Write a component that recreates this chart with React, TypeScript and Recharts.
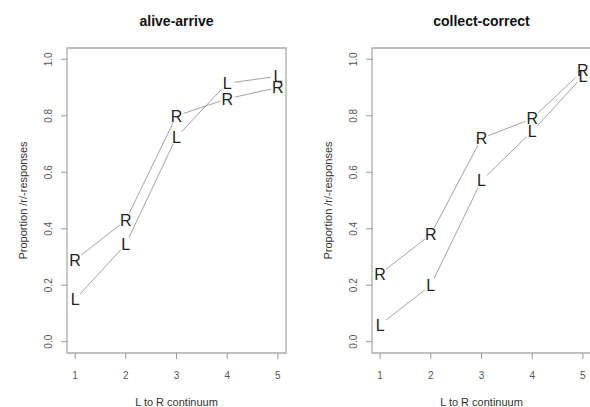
import React from "react";
import {
  ComposedChart,
  Line,
  Scatter,
  XAxis,
  YAxis,
  ReferenceArea,
} from "recharts";

// continuum steps and tick labels
const steps = [1, 2, 3, 4, 5];
const yTicks = [0, 0.2, 0.4, 0.6, 0.8, 1.0];

// alive-arrive
const aliveR = [0.29, 0.43, 0.8, 0.86, 0.9];
const aliveL = [0.15, 0.345, 0.725, 0.915, 0.94];

// collect-correct
const collectR = [0.24, 0.38, 0.72, 0.79, 0.96];
const collectL = [0.06, 0.2, 0.57, 0.745, 0.94];

const X_DOMAIN: [number, number] = [0.84, 5.16];
const Y_DOMAIN: [number, number] = [-0.04, 1.04];
const FONT = '"Liberation Sans", Arial, Helvetica, sans-serif';
const LINE = "#a3a3a3";

type PanelProps = {
  title: string;
  rVals: number[];
  lVals: number[];
  left: number;
  width: number;
  yAxisWidth: number;
  rightMargin: number;
};

const halo = (p: any) => <circle cx={p.cx} cy={p.cy} r={7.5} fill="#fff" />;

const letter = (ch: string) => (p: any) => (
  <text
    x={p.cx}
    y={p.cy}
    dy="0.36em"
    textAnchor="middle"
    fontSize={16}
    fill="#222"
  >
    {ch}
  </text>
);

const YTick = (props: any) => {
  const { x, y, payload } = props;
  return (
    <text
      x={x}
      y={y}
      dy="0.36em"
      textAnchor="middle"
      fontSize={10}
      fill="#555"
      transform={`rotate(-90, ${x}, ${y})`}
    >
      {Number(payload.value).toFixed(1)}
    </text>
  );
};

function Panel({ title, rVals, lVals, left, width, yAxisWidth, rightMargin }: PanelProps) {
  const data = steps.map((s, i) => ({ x: s, R: rVals[i], L: lVals[i] }));
  const plotW = width - yAxisWidth - rightMargin;

  return (
    <div style={{ position: "absolute", left, top: 0, width, height: 407 }}>
      <div
        style={{
          position: "absolute",
          left: yAxisWidth,
          width: plotW,
          top: 14,
          textAlign: "center",
          fontSize: 14,
          lineHeight: "14px",
          fontWeight: "bold",
          color: "#111",
        }}
      >
        {title}
      </div>
      <ComposedChart
        width={width}
        height={407}
        data={data}
        margin={{ top: 48, right: rightMargin, bottom: 0, left: 0 }}
      >
        <XAxis
          dataKey="x"
          type="number"
          domain={X_DOMAIN}
          ticks={steps}
          allowDataOverflow
          axisLine={false}
          tickLine={{ stroke: "#999" }}
          tickSize={6}
          tickMargin={13}
          height={54}
          tick={{ fontSize: 10, fill: "#555" }}
          label={{
            value: "L to R continuum",
            position: "insideBottom",
            offset: 1,
            style: { fontSize: 11, fill: "#333" },
          }}
        />
        <YAxis
          type="number"
          domain={Y_DOMAIN}
          ticks={yTicks}
          allowDataOverflow
          axisLine={false}
          tickLine={{ stroke: "#999" }}
          tickSize={6}
          tickMargin={13}
          width={yAxisWidth}
          tick={<YTick />}
          label={{
            value: "Proportion /r/-responses",
            angle: -90,
            position: "insideLeft",
            offset: yAxisWidth - 44,
            style: { fontSize: 11, fill: "#333", textAnchor: "middle" },
          }}
        />
        <ReferenceArea
          x1={X_DOMAIN[0]}
          x2={X_DOMAIN[1]}
          y1={Y_DOMAIN[0]}
          y2={Y_DOMAIN[1]}
          fill="none"
          stroke="#aaa"
          strokeWidth={1.3}
        />
        <Line type="linear" dataKey="R" stroke={LINE} strokeWidth={1} dot={false} isAnimationActive={false} />
        <Line type="linear" dataKey="L" stroke={LINE} strokeWidth={1} dot={false} isAnimationActive={false} />
        <Scatter dataKey="R" shape={halo} isAnimationActive={false} />
        <Scatter dataKey="L" shape={halo} isAnimationActive={false} />
        <Scatter dataKey="L" shape={letter("L")} isAnimationActive={false} />
        <Scatter dataKey="R" shape={letter("R")} isAnimationActive={false} />
      </ComposedChart>
    </div>
  );
}

export default function App() {
  return (
    <div
      style={{
        position: "absolute",
        left: 0,
        top: 0,
        width: 590,
        height: 407,
        overflow: "hidden",
        background: "#fff",
        fontFamily: FONT,
      }}
    >
      <Panel
        title="alive-arrive"
        rVals={aliveR}
        lVals={aliveL}
        left={0}
        width={295}
        yAxisWidth={67}
        rightMargin={9}
      />
      <Panel
        title="collect-correct"
        rVals={collectR}
        lVals={collectL}
        left={295}
        width={296}
        yAxisWidth={77}
        rightMargin={0}
      />
    </div>
  );
}
